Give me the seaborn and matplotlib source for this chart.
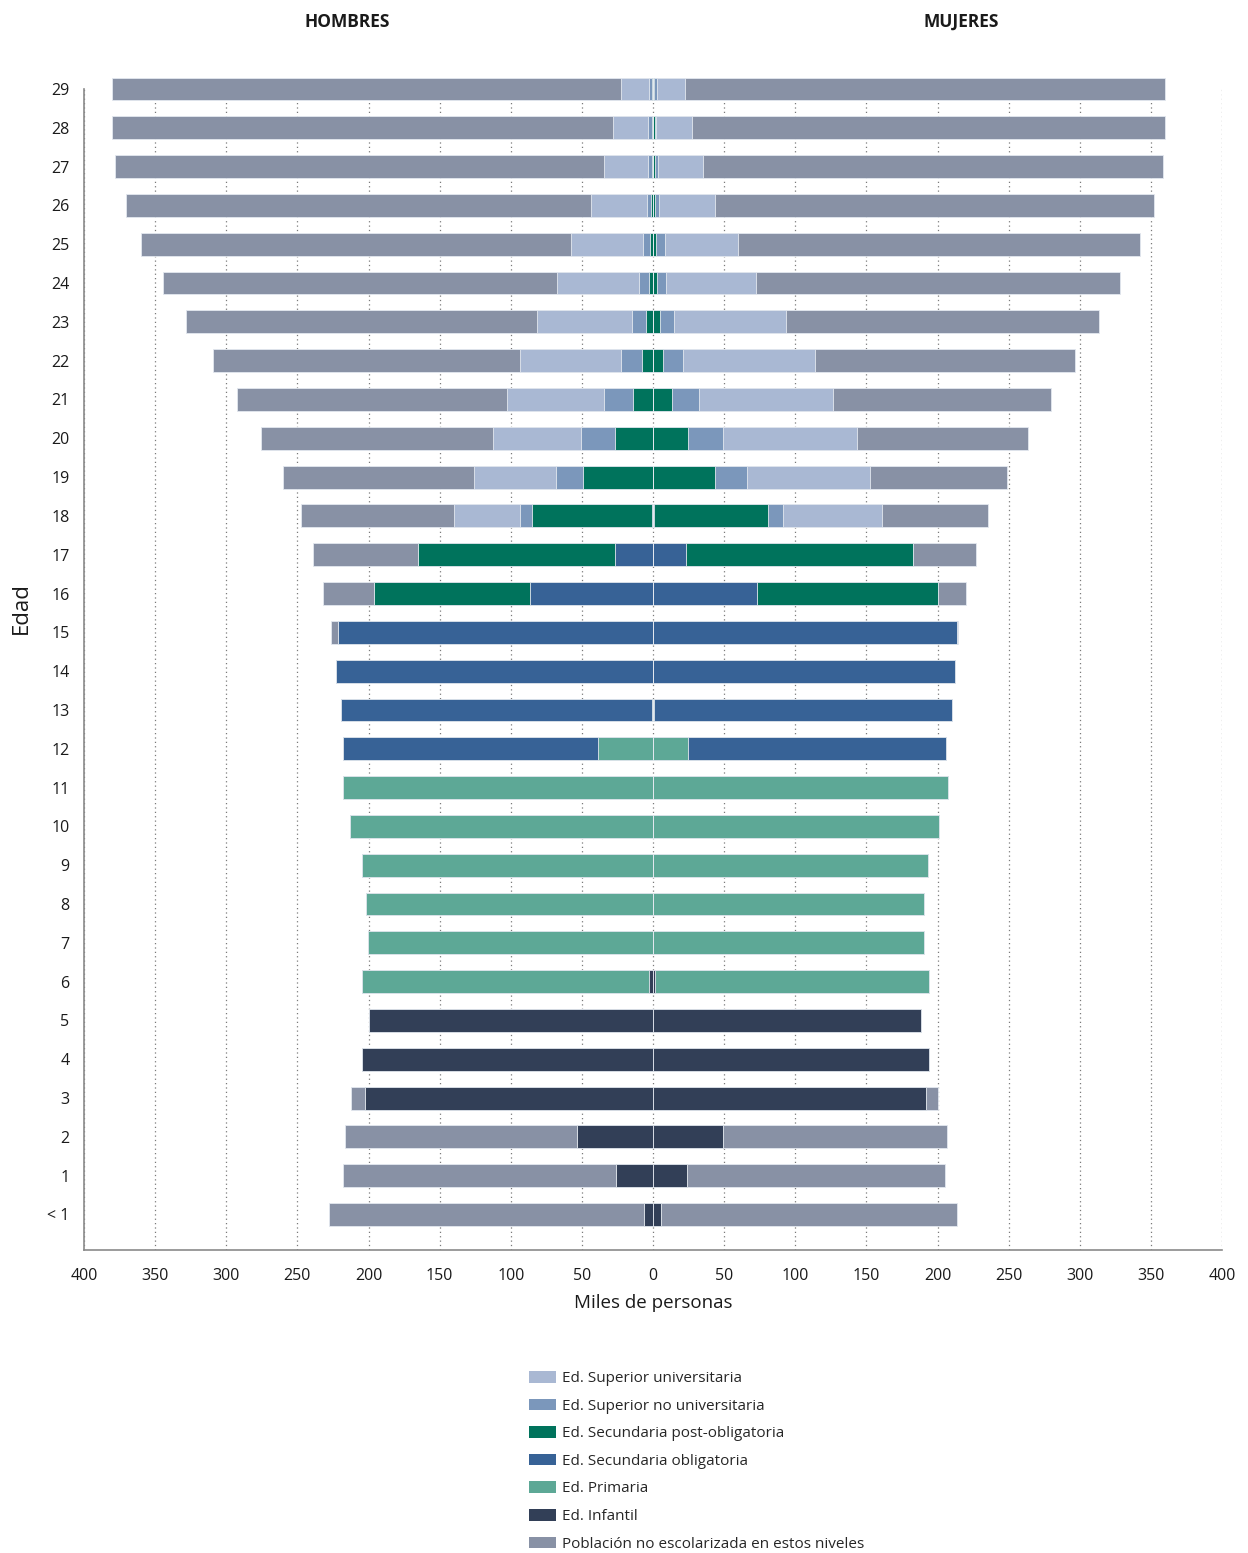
# -*- coding: utf-8 -*-
"""
Piramide de escolarizacion por edad y sexo (miles de personas)
"""

import numpy as np
import matplotlib.pyplot as plt
import seaborn as sns
import pandas as pd
from matplotlib.patches import Patch

custom_params = {"axes.spines.right": False, "axes.spines.top": False}
sns.set_theme(style="ticks", rc=custom_params)
plt.rcParams['font.family'] = ['Open Sans', 'DejaVu Sans']

#%% Data (ages from "< 1" to 29)
ages = ["< 1"] + [str(a) for a in range(1, 30)]

# Hombres
h_infantil = [6.0, 26.0, 53.3, 202.5, 204.4, 200.0, 2.6] + [0] * 23
h_primaria = [0] * 6 + [201.8, 200.2, 202.0, 204.4, 213.0, 217.6, 39.0, 1.0] + [0] * 16
h_sec_oblig = [0] * 12 + [178.9, 218.2, 222.6, 221.3, 86.8, 26.8, 1.0] + [0] * 11
h_sec_post = [0] * 16 + [109.0, 138.3, 84.0, 49.1, 26.8, 13.8, 7.8, 4.9, 2.9, 2.1,
                         1.3, 0.9, 0.8, 0.8]
h_sup_nouniv = [0] * 18 + [8.3, 19.0, 23.6, 20.8, 14.8, 9.9, 7.0, 4.7, 2.6, 2.5, 2.6, 1.8]
h_sup_univ = [0] * 18 + [46.3, 57.5, 62.4, 67.8, 70.7, 67.1, 57.7, 51.2, 40.0, 31.4,
                         24.4, 19.8]
h_no_escol = [221.5, 192.2, 163.3, 9.9] + [0] * 11 + [4.9, 35.9, 74.1, 108.2, 134.7,
                                                       162.6, 189.8, 215.9, 246.2, 276.9,
                                                       301.6, 326.9, 343.5, 352.6, 358.0]

# Mujeres
m_infantil = [5.8, 24.1, 49.2, 192.1, 194.2, 188.4, 1.6] + [0] * 23
m_primaria = [0] * 6 + [192.1, 190.5, 190.5, 193.4, 201.1, 207.4, 24.9, 1.0] + [0] * 16
m_sec_oblig = [0] * 12 + [181.4, 209.3, 212.2, 214.0, 73.0, 23.0, 0.8] + [0] * 11
m_sec_post = [0] * 16 + [127.0, 160.1, 80.2, 43.7, 24.6, 13.0, 7.1, 4.8, 2.6, 2.1,
                         1.6, 1.3, 1.3, 0.8]
m_sup_nouniv = [0] * 18 + [10.5, 22.4, 24.9, 19.3, 14.1, 10.0, 6.7, 6.1, 2.4, 1.9, 1.1, 1.8]
m_sup_univ = [0] * 18 + [69.6, 86.3, 93.6, 94.4, 92.6, 78.6, 62.9, 51.6, 39.7, 32.2,
                         25.1, 19.9]
m_no_escol = [207.7, 180.9, 157.7, 7.9] + [0] * 11 + [0.6, 19.8, 43.6, 74.6, 96.5,
                                                      120.7, 153.2, 182.5, 220.1, 256.4,
                                                      282.5, 308.4, 323.3, 332.6, 337.6]

# from the centre outwards
levels = ["Ed. Infantil", "Ed. Primaria", "Ed. Secundaria obligatoria",
          "Ed. Secundaria post-obligatoria", "Ed. Superior no universitaria",
          "Ed. Superior universitaria", "Población no escolarizada en estos niveles"]
colors = ["#323F57", "#5DA896", "#376296", "#00735C", "#7B97BB", "#A9B8D3", "#8891A5"]

hombres = [h_infantil, h_primaria, h_sec_oblig, h_sec_post, h_sup_nouniv, h_sup_univ, h_no_escol]
mujeres = [m_infantil, m_primaria, m_sec_oblig, m_sec_post, m_sup_nouniv, m_sup_univ, m_no_escol]

rows = []
for sexo, series, sign in [("Hombres", hombres, -1), ("Mujeres", mujeres, 1)]:
    cum = np.cumsum(np.array(series), axis=0)
    for j, lev in enumerate(levels):
        for i, age in enumerate(ages):
            rows.append({"Sexo": sexo, "Nivel": lev, "Edad": age,
                         "Acum": sign * cum[j, i]})
data = pd.DataFrame(rows)

#%% Plot
plt.close("all")
fig = plt.figure(figsize=(12.48, 15.53), dpi=100)
ax = fig.add_axes([0.0673, 0.1951, 0.9119, 0.7476])

order = ages[::-1]
for j in range(len(levels) - 1, -1, -1):
    for sexo in ["Hombres", "Mujeres"]:
        sub = data[(data["Nivel"] == levels[j]) & (data["Sexo"] == sexo)]
        sns.barplot(data=sub, x="Acum", y="Edad", order=order, orient="h",
                    color=colors[j], saturation=1, width=0.59, errorbar=None,
                    edgecolor="#e3e8ef", linewidth=0.6, ax=ax)

for p in ax.patches:
    p.set_clip_on(False)

ax.set_ylim(29.915, 0.0)
ax.set_xlim(-400, 400)
xt = list(range(-400, 401, 50))
ax.set_xticks(xt)
ax.set_xticklabels([str(abs(v)) for v in xt])
ax.xaxis.grid(True, linestyle=(0, (1, 2.5)), color="#7a7a7a", linewidth=0.9)
ax.yaxis.grid(False)
ax.set_axisbelow(True)

ax.tick_params(axis="both", length=0, labelsize=11.5, colors="#1a1a1a")
ax.tick_params(axis="y", pad=10.5)
ax.tick_params(axis="x", pad=13)
for s in ["left", "bottom"]:
    ax.spines[s].set_color("#8a8a8a")
    ax.spines[s].set_linewidth(1.2)

ax.set_xlabel("Miles de personas", fontsize=13.5, color="#1a1a1a", labelpad=7)
ax.set_ylabel("Edad", fontsize=16, color="#1a1a1a")
ax.yaxis.set_label_coords(-0.046, 0.553)

fig.text(0.278, 0.986, "HOMBRES", ha="center", va="center", fontsize=12.5,
         fontweight="bold", color="#1a1a1a")
fig.text(0.770, 0.986, "MUJERES", ha="center", va="center", fontsize=12.5,
         fontweight="bold", color="#1a1a1a")

legend_order = [5, 4, 3, 2, 1, 0, 6]
handles = [Patch(facecolor=colors[k], edgecolor="none", label=levels[k]) for k in legend_order]
fig.legend(handles=handles, loc="upper left", bbox_to_anchor=(0.413, 0.126),
           frameon=False, handlelength=1.77, handleheight=0.78,
           handletextpad=0.4, labelspacing=0.82,
           prop={"family": ["Open Sans", "DejaVu Sans"], "size": 11})

plt.savefig("out.png", dpi=100)
